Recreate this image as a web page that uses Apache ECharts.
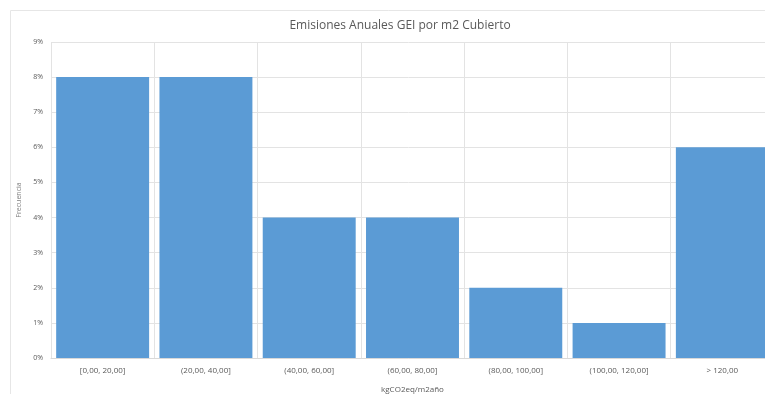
<!DOCTYPE html>
<html><head><meta charset="utf-8">
<script src="https://cdn.jsdelivr.net/npm/echarts@6/dist/echarts.min.js"></script>
<style>html,body{margin:0;padding:0;background:#fff;}#c{width:765px;height:394px;}</style>
</head><body><div id="c"></div>
<script>
const categories = ["[0,00, 20,00]", "(20,00, 40,00]", "(40,00, 60,00]", "(60,00, 80,00]", "(80,00, 100,00]", "(100,00, 120,00]", "> 120,00"];
const frecuencia = [8, 8, 4, 4, 2, 1, 6];
const yTicks = [0, 1, 2, 3, 4, 5, 6, 7, 8, 9];
const titleText = "Emisiones Anuales GEI por m2 Cubierto";
const xTitle = "kgCO2eq/m2año";
const yTitle = "Frecuencia";

const chart = echarts.init(document.getElementById('c'), null, {renderer: 'canvas'});
const font = "'Open Sans', 'Liberation Sans', sans-serif";
chart.setOption({
  animation: false,
  backgroundColor: '#fff',
  graphic: [{
    type: 'rect', z: -1, silent: true,
    shape: {x: 10.5, y: 10.5, width: 800, height: 500},
    style: {fill: '#fff', stroke: '#E6E6E6', lineWidth: 1}
  }],
  title: {
    text: titleText, left: 395, top: 15, textAlign: 'center',
    textStyle: {fontFamily: font, fontSize: 12, fontWeight: 'normal', color: '#595959'}
  },
  grid: {left: 51, right: -9, top: 42, bottom: 36, containLabel: false, outerBoundsMode: 'none'},
  xAxis: {
    type: 'category', data: categories,
    name: xTitle, nameLocation: 'middle', nameGap: 28,
    nameTextStyle: {fontFamily: font, fontSize: 8, color: '#595959'},
    axisLine: {show: true, lineStyle: {color: '#D9D9D9'}},
    axisTick: {show: false},
    axisLabel: {fontFamily: font, fontSize: 8, color: '#595959', margin: 9, interval: 0},
    splitLine: {show: true, lineStyle: {color: '#E3E3E3'}}
  },
  yAxis: {
    type: 'value', min: 0, max: 9, interval: 1,
    name: yTitle, nameLocation: 'middle', nameGap: 25, nameRotate: 90,
    nameTextStyle: {fontFamily: font, fontSize: 7, color: '#7F7F7F'},
    axisLine: {show: false}, axisTick: {show: false},
    axisLabel: {fontFamily: font, fontSize: 7, color: '#595959', margin: 8,
      formatter: v => yTicks.includes(v) ? v + '%' : ''},
    splitLine: {show: true, lineStyle: {color: '#E3E3E3'}}
  },
  series: [{
    type: 'bar', data: frecuencia, barCategoryGap: '10%',
    itemStyle: {color: '#5B9BD5'}
  }]
});
</script></body></html>
